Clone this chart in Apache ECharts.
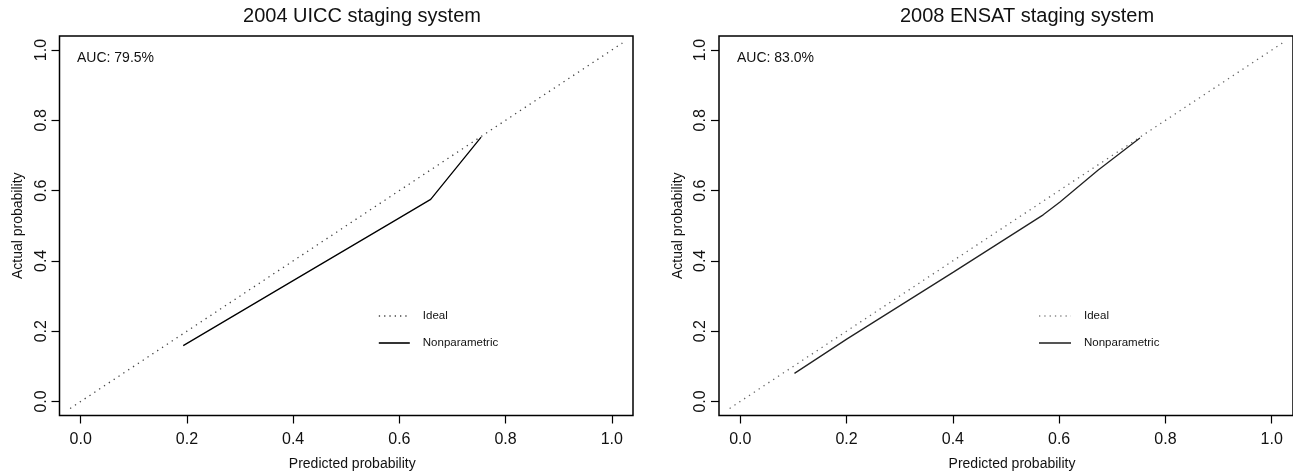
<!DOCTYPE html>
<html>
<head>
<meta charset="utf-8">
<script src="https://cdn.jsdelivr.net/npm/echarts@6/dist/echarts.min.js"></script>
<style>
  html, body { margin: 0; padding: 0; background: #fff; }
  #chart { width: 1293px; height: 473px; }
</style>
</head>
<body>
<div id="chart"></div>
<script>
// tick positions and labels (both axes, both panels)
const ticks = [0, 0.2, 0.4, 0.6, 0.8, 1.0];
const tickLabels = ["0.0", "0.2", "0.4", "0.6", "0.8", "1.0"];

const panelTitles = ["2004 UICC staging system", "2008 ENSAT staging system"];
const aucLabels = ["AUC: 79.5%", "AUC: 83.0%"];
const seriesNames = ["Ideal", "Nonparametric"];

// ideal diagonal
const idealLine = [[-0.02, -0.02], [1.02, 1.02]];
// calibration curves
const uiccNonparametric = [[0.193, 0.159], [0.400, 0.344], [0.601, 0.523], [0.659, 0.575], [0.754, 0.752]];
const ensatNonparametric = [[0.102, 0.080], [0.201, 0.178], [0.401, 0.368], [0.570, 0.531], [0.601, 0.567], [0.673, 0.658], [0.752, 0.750]];

const font = "Liberation Sans, Arial, Helvetica, sans-serif";
const chart = echarts.init(document.getElementById("chart"));

function axis(type, gridIndex, name) {
  const isX = type === "x";
  return {
    type: "value",
    gridIndex: gridIndex,
    min: -0.04,
    max: 1.04,
    name: name,
    nameLocation: "middle",
    nameGap: isX ? 42 : 34,
    nameTextStyle: { fontFamily: font, fontSize: 14, color: "#111", padding: isX ? [0, 0, 0, 12] : 0 },
    axisLine: { show: false, onZero: false },
    splitLine: { show: false },
    axisTick: { show: true, inside: false, length: 8, customValues: ticks, lineStyle: { color: "#000", width: 1.2 } },
    axisLabel: {
      customValues: ticks,
      formatter: v => tickLabels[ticks.indexOf(v)] || v.toFixed(1),
      fontFamily: font,
      fontSize: 16,
      color: "#111",
      margin: isX ? 16 : 10,
      rotate: isX ? 0 : 90
    }
  };
}

const grids = [
  { left: 59.5, top: 36, width: 573.5, height: 379.5 },
  { left: 719, top: 36, width: 574, height: 379.5 }
].map(g => Object.assign(g, {
  show: true, borderColor: "#000", borderWidth: 1.5, backgroundColor: "transparent",
  containLabel: false, outerBoundsMode: "none"
}));

const hiddenSymbol = { opacity: 0 };

const option = {
  animation: false,
  backgroundColor: "#fff",
  title: [
    { text: panelTitles[0], left: 357, top: 1, textAlign: "center", textStyle: { fontFamily: font, fontSize: 20, fontWeight: "normal", color: "#111" } },
    { text: panelTitles[1], left: 1022, top: 1, textAlign: "center", textStyle: { fontFamily: font, fontSize: 20, fontWeight: "normal", color: "#111" } },
    { text: aucLabels[0], left: 72, top: 46, textStyle: { fontFamily: font, fontSize: 14, fontWeight: "normal", color: "#111" } },
    { text: aucLabels[1], left: 732, top: 46, textStyle: { fontFamily: font, fontSize: 14, fontWeight: "normal", color: "#111" } }
  ],
  legend: [
    {
      left: 373, top: 305, orient: "vertical", itemWidth: 31, itemHeight: 14, itemGap: 15,
      textStyle: { fontFamily: font, fontSize: 11.5, color: "#111", padding: [0, 0, 0, 8] },
      data: [
        { name: seriesNames[0], itemStyle: hiddenSymbol, lineStyle: { color: "#444", type: [1.3, 4], width: 1.3 } },
        { name: seriesNames[1], itemStyle: hiddenSymbol, lineStyle: { color: "#000", type: "solid", width: 1.6 } }
      ]
    },
    {
      left: 1033, top: 305, orient: "vertical", itemWidth: 32, itemHeight: 14, itemGap: 15,
      textStyle: { fontFamily: font, fontSize: 11.5, color: "#111", padding: [0, 0, 0, 8] },
      data: [
        { name: seriesNames[0], itemStyle: hiddenSymbol, lineStyle: { color: "#888", type: [1.3, 4], width: 1.3 } },
        { name: seriesNames[1], itemStyle: hiddenSymbol, lineStyle: { color: "#555", type: "solid", width: 2 } }
      ]
    }
  ],
  grid: grids,
  xAxis: [axis("x", 0, "Predicted probability"), axis("x", 1, "Predicted probability")],
  yAxis: [axis("y", 0, "Actual probability"), axis("y", 1, "Actual probability")],
  series: [
    {
      name: seriesNames[0], type: "line", xAxisIndex: 0, yAxisIndex: 0, data: idealLine,
      symbol: "none", silent: true, lineStyle: { color: "#444", type: [1.3, 4.5], width: 1.3 }, itemStyle: { color: "#444" }
    },
    {
      name: seriesNames[1], type: "line", xAxisIndex: 0, yAxisIndex: 0, data: uiccNonparametric,
      symbol: "none", silent: true, lineStyle: { color: "#000", width: 1.3 }, itemStyle: { color: "#000" }
    },
    {
      name: seriesNames[0], type: "line", xAxisIndex: 1, yAxisIndex: 1, data: idealLine,
      symbol: "none", silent: true, lineStyle: { color: "#666", type: [1.3, 4.5], width: 1.3 }, itemStyle: { color: "#666" }
    },
    {
      name: seriesNames[1], type: "line", xAxisIndex: 1, yAxisIndex: 1, data: ensatNonparametric,
      symbol: "none", silent: true, lineStyle: { color: "#222", width: 1.3 }, itemStyle: { color: "#222" }
    }
  ]
};

chart.setOption(option);
</script>
</body>
</html>
